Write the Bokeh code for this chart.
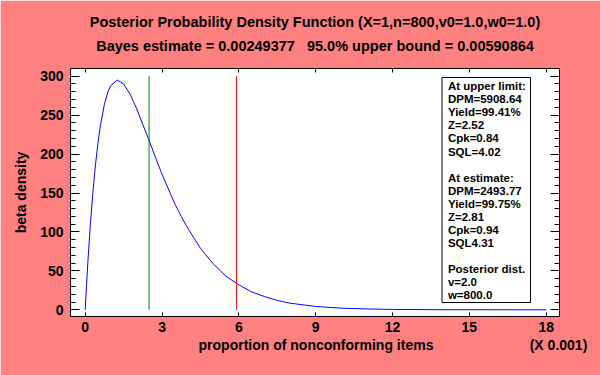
from bokeh.plotting import figure
from bokeh.models import Range1d, LinearAxis, FixedTicker, Title
from bokeh.embed import file_html
from bokeh.resources import INLINE
from bokeh.core.properties import value

# ---------------- data ----------------
prop_x = [0, 0.05, 0.1, 0.2, 0.3, 0.4, 0.5, 0.6, 0.75, 0.9, 1.0, 1.25, 1.5, 1.75,
          2.0, 2.25, 2.5, 2.75, 3.0, 3.25, 3.5, 3.75, 4.0, 4.5, 5.0, 5.5, 6.0,
          6.5, 7.0, 7.5, 8.0, 9.0, 10.0, 11.0, 12.0, 14.0, 16.0, 18.0]
density = [0, 30, 59, 109, 151, 186, 215, 238, 264, 281, 288, 295, 290, 277,
           259, 238, 217, 195, 174, 155, 136, 120, 105, 79, 59, 43, 32,
           23, 17, 12, 8.5, 4.3, 2.1, 1.1, 0.5, 0.1, 0.03, 0.0]
bayes_estimate = 2.49377     # x 0.001
upper_bound = 5.90864        # x 0.001
marker_top = 300
x_ticks = [0, 3, 6, 9, 12, 15, 18]
y_ticks = [0, 50, 100, 150, 200, 250, 300]
y_minor = list(range(0, 310, 10))
title1 = "Posterior Probability Density Function (X=1,n=800,v0=1.0,w0=1.0)"
title2 = "Bayes estimate = 0.00249377\u00a0\u00a0\u00a095.0% upper bound = 0.00590864"
x_label = "proportion of nonconforming items"
x_scale_label = "(X 0.001)"
y_label = "beta density"
box_lines = ["At upper limit:", "DPM=5908.64", "Yield=99.41%", "Z=2.52", "Cpk=0.84",
             "SQL=4.02", "", "At estimate:", "DPM=2493.77", "Yield=99.75%", "Z=2.81",
             "Cpk=0.94", "SQL4.31", "", "Posterior dist.", "v=2.0", "w=800.0"]

# ---------------- layout ----------------
W, H = 600, 375
BL, BR, BT, BB = 70, 41, 68, 59
FW, FH = W - BL - BR, H - BT - BB
XMIN, XMAX = -0.574, 18.52
YMIN, YMAX = -8.6, 309.9
FONT = "Liberation Sans"
BG = "#ff8080"

def px_x(cx):
    return XMIN + (cx - BL) / FW * (XMAX - XMIN)

def px_y(cy):
    return YMIN + (BT + FH - cy) / FH * (YMAX - YMIN)

p = figure(width=W, height=H, output_backend="svg", toolbar_location=None,
           x_range=Range1d(XMIN, XMAX), y_range=Range1d(YMIN, YMAX),
           min_border_left=BL, min_border_right=BR, min_border_top=BT,
           min_border_bottom=BB, border_fill_color=BG, background_fill_color="white",
           outline_line_color="black", outline_line_width=1)
p.grid.visible = False

def style_axis(ax, labels, major_in, minor_in, minor=True):
    ax.axis_line_color = None
    ax.major_tick_in = major_in
    ax.major_tick_out = 0
    ax.major_tick_line_color = "black"
    if minor:
        ax.minor_tick_in = minor_in
        ax.minor_tick_out = 0
        ax.minor_tick_line_color = "black"
    else:
        ax.minor_tick_line_color = None
    ax.major_label_text_font = FONT
    ax.major_label_text_font_style = "bold"
    if labels:
        ax.major_label_text_color = "black"
        ax.major_label_text_font_size = "14px"
    else:
        ax.major_label_text_color = None
        ax.major_label_text_font_size = "1px"
    ax.axis_label_text_font = FONT
    ax.axis_label_text_font_style = "bold"
    ax.axis_label_text_font_size = "14px"
    ax.axis_label_text_color = "black"

xt = FixedTicker(ticks=x_ticks, minor_ticks=[])
yt = FixedTicker(ticks=y_ticks, minor_ticks=y_minor)

xa = p.xaxis[0]
xa.ticker = xt
style_axis(xa, True, 4, 0, minor=False)
xa.major_label_standoff = 5

# second below axis carrying the axis title and the scale note as labels
lab_pos = [px_x(315.5), px_x(558)]
xa2 = LinearAxis(ticker=FixedTicker(ticks=lab_pos, minor_ticks=[]))
style_axis(xa2, True, 0, 0, minor=False)
xa2.major_tick_line_color = None
xa2.major_label_standoff = 2
xa2.major_label_overrides = {lab_pos[0]: x_label, lab_pos[1]: x_scale_label}
p.add_layout(xa2, "below")

ya = p.yaxis[0]
ya.ticker = yt
style_axis(ya, True, 9, 5)
ya.axis_label = y_label
ya.major_label_standoff = 7
ya.axis_label_standoff = 8

ra = LinearAxis(ticker=yt)
style_axis(ra, False, 9, 5)
ra.major_label_standoff = 0
p.add_layout(ra, "right")

# top axis: ticks only, with the second title line as its label
ta = LinearAxis(ticker=xt)
style_axis(ta, False, 4, 0, minor=False)
ta.major_label_standoff = 0
ta.axis_label = title2
ta.axis_label_text_font_size = "14.5px"
ta.axis_label_standoff = 15
p.add_layout(ta, "above")

t1 = Title(text=title1, align="center", text_font=FONT, text_font_style="bold",
           text_font_size="14.5px", text_color="black")
p.add_layout(t1, "above")

# curve and markers
p.line(prop_x, density, line_color="#0000ff", line_width=1)
p.segment(x0=[bayes_estimate], y0=[0], x1=[bayes_estimate], y1=[marker_top],
          line_color="#008000", line_width=1)
p.segment(x0=[upper_bound], y0=[0], x1=[upper_bound], y1=[marker_top],
          line_color="#ff0000", line_width=1)

# info box
p.quad(left=[px_x(441.5)], right=[px_x(530)], top=[px_y(77)], bottom=[px_y(302)],
       fill_color="white", line_color="black", line_width=1)
ly = [px_y(85.7 + i * 13.07) for i in range(len(box_lines))]
lx = [px_x(447.4)] * len(box_lines)
p.text(x=lx, y=ly, text=box_lines, text_font=value(FONT), text_font_style="bold",
       text_font_size="11.5px", text_color="black", text_baseline="middle", text_align="left")

open("out.html", "w").write(file_html(p, INLINE))
